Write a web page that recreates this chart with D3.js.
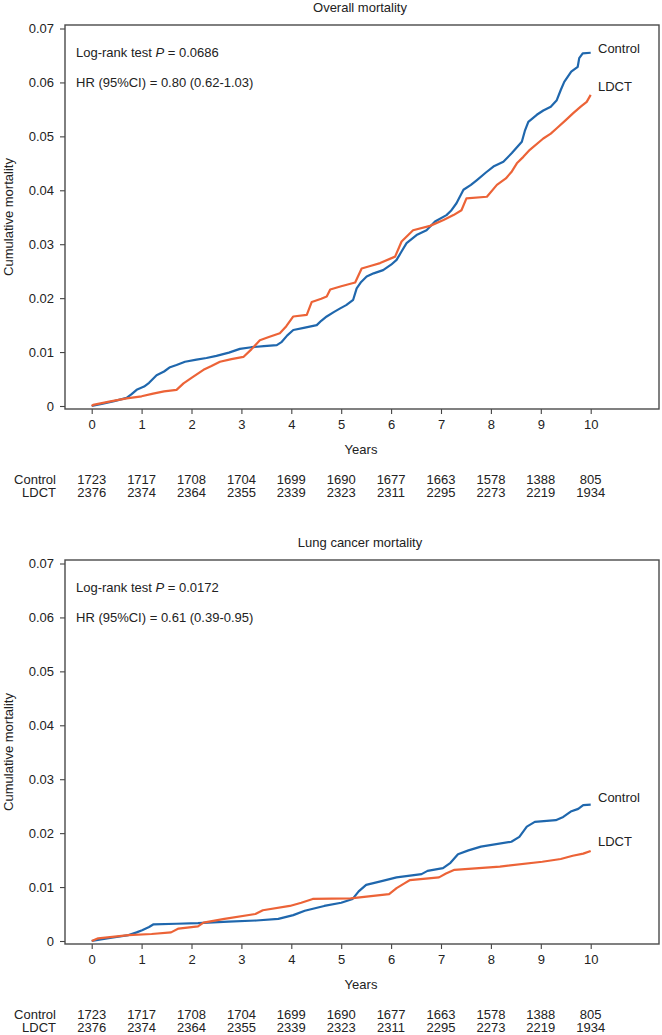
<!DOCTYPE html>
<html>
<head>
<meta charset="utf-8">
<script src="https://cdn.jsdelivr.net/npm/d3@7"></script>
<style>
  html, body { margin: 0; padding: 0; background: #fff; }
  svg { display: block; }
  text { font-family: "Liberation Sans", Arial, sans-serif; fill: #222; }
</style>
</head>
<body>
<svg id="chart" width="662" height="1035"></svg>
<script>
// ---------- data ----------
const panelTitles = ["Overall mortality", "Lung cancer mortality"];
const logRankText = ["0.0686", "0.0172"];
const hrText = ["HR (95%CI) = 0.80 (0.62-1.03)", "HR (95%CI) = 0.61 (0.39-0.95)"];
const groups = ["Control", "LDCT"];
const xTicks = [0, 1, 2, 3, 4, 5, 6, 7, 8, 9, 10];
const yTicks = [0, 0.01, 0.02, 0.03, 0.04, 0.05, 0.06, 0.07];
const atRiskControl = [1723, 1717, 1708, 1704, 1699, 1690, 1677, 1663, 1578, 1388, 805];
const atRiskLDCT = [2376, 2374, 2364, 2355, 2339, 2323, 2311, 2295, 2273, 2219, 1934];

const overallControl = [[0,0],[0.2,0.0004],[0.45,0.0009],[0.7,0.0015],[0.8,0.0022],[0.9,0.0030],[1.05,0.0036],[1.15,0.0043],[1.3,0.0057],[1.45,0.0064],[1.57,0.0072],[1.7,0.0076],[1.87,0.0082],[2.1,0.0086],[2.3,0.0089],[2.5,0.0093],[2.75,0.0099],[2.97,0.0106],[3.2,0.0109],[3.45,0.0111],[3.71,0.0113],[3.81,0.0119],[3.92,0.0131],[4.04,0.0141],[4.25,0.0145],[4.51,0.0150],[4.6,0.0158],[4.71,0.0166],[4.85,0.0174],[4.98,0.0181],[5.1,0.0187],[5.24,0.0197],[5.31,0.0218],[5.4,0.0230],[5.51,0.0240],[5.65,0.0246],[5.84,0.0252],[6.0,0.0262],[6.11,0.0271],[6.2,0.0285],[6.31,0.0302],[6.51,0.0317],[6.71,0.0326],[6.88,0.0342],[7.11,0.0354],[7.2,0.0362],[7.31,0.0376],[7.45,0.0401],[7.6,0.0410],[7.72,0.0419],[7.9,0.0433],[8.05,0.0444],[8.25,0.0453],[8.42,0.0469],[8.62,0.0490],[8.68,0.0510],[8.75,0.0527],[8.92,0.0540],[9.05,0.0548],[9.2,0.0555],[9.32,0.0567],[9.4,0.0586],[9.47,0.0601],[9.61,0.0620],[9.74,0.0629],[9.77,0.0645],[9.84,0.0654],[10,0.0655]];
const overallLDCT = [[0,0],[0.03,0.0002],[0.35,0.0008],[0.7,0.0014],[1.0,0.0018],[1.23,0.0023],[1.45,0.0027],[1.7,0.0030],[1.77,0.0036],[1.84,0.0042],[2.0,0.0052],[2.24,0.0067],[2.4,0.0074],[2.57,0.0082],[2.8,0.0087],[3.04,0.0091],[3.2,0.0105],[3.37,0.0122],[3.55,0.0128],[3.77,0.0135],[3.9,0.0148],[4.04,0.0166],[4.31,0.0169],[4.41,0.0193],[4.6,0.0199],[4.71,0.0203],[4.78,0.0216],[5.0,0.0222],[5.28,0.0229],[5.41,0.0255],[5.6,0.0260],[5.78,0.0265],[6.08,0.0277],[6.21,0.0305],[6.44,0.0326],[6.78,0.0334],[7.05,0.0345],[7.25,0.0354],[7.41,0.0363],[7.51,0.0385],[7.92,0.0388],[8.12,0.0410],[8.3,0.0422],[8.42,0.0435],[8.52,0.0450],[8.65,0.0462],[8.78,0.0475],[9.05,0.0496],[9.2,0.0505],[9.32,0.0515],[9.5,0.0530],[9.65,0.0543],[9.8,0.0555],[9.92,0.0564],[10,0.0577]];
const lungControl = [[0,0],[0.4,0.0006],[0.74,0.0011],[0.9,0.0016],[1.01,0.0020],[1.15,0.0026],[1.24,0.0031],[1.7,0.0032],[2.13,0.0033],[2.74,0.0036],[3.3,0.0038],[3.74,0.0041],[4.04,0.0048],[4.27,0.0056],[4.66,0.0065],[5.0,0.0071],[5.23,0.0078],[5.35,0.0092],[5.5,0.0104],[5.81,0.0111],[6.11,0.0118],[6.61,0.0124],[6.73,0.0130],[7.04,0.0135],[7.19,0.0145],[7.34,0.0161],[7.55,0.0168],[7.8,0.0175],[8.41,0.0184],[8.57,0.0193],[8.72,0.0212],[8.88,0.0221],[9.3,0.0224],[9.45,0.0230],[9.6,0.0240],[9.75,0.0245],[9.85,0.0252],[10,0.0253]];
const lungLDCT = [[0,0],[0.13,0.0005],[0.74,0.0011],[1.2,0.0013],[1.59,0.0016],[1.74,0.0023],[2.13,0.0027],[2.24,0.0034],[2.66,0.0041],[3.28,0.0050],[3.43,0.0057],[3.97,0.0065],[4.2,0.0071],[4.43,0.0078],[5.19,0.0079],[5.96,0.0087],[6.11,0.0098],[6.25,0.0106],[6.38,0.0113],[6.96,0.0118],[7.1,0.0125],[7.27,0.0132],[8.18,0.0138],[9.03,0.0147],[9.4,0.0152],[9.64,0.0158],[9.85,0.0162],[10,0.0167]];

const panelSeries = [[overallControl, overallLDCT], [lungControl, lungLDCT]];
// curve-end label positions (data units)
const endLabelY = [[0.0663, 0.0593], [0.0267, 0.0185]];

// ---------- drawing ----------
const colors = ["#1f67ad", "#ec6337"];
const svg = d3.select("#chart");
const FS = 13;

const frameL = 65, frameR = 659;

function drawPanel(i, off) {
  const g = svg.append("g").attr("transform", `translate(0,${off})`);
  const frameT = 25, frameB = 409;
  const x = d3.scaleLinear().domain([0, 10]).range([91.7, 590.7]);
  const y = d3.scaleLinear().domain([0, 0.07]).range([406, 28.5]);

  // title
  g.append("text").attr("x", 360).attr("y", 7).attr("dy", "0.35em")
    .attr("text-anchor", "middle").style("font-size", FS + "px").text(panelTitles[i]);

  // y axis
  const ya = d3.axisLeft(y).tickValues(yTicks).tickSize(5).tickPadding(6)
    .tickFormat(d => d === 0 ? "0" : d3.format(".2f")(d));
  const yg = g.append("g").attr("transform", `translate(${frameL},0)`).call(ya);
  yg.select(".domain").remove();
  yg.selectAll("line").attr("stroke", "#444").attr("stroke-width", 1.1);
  yg.selectAll("text").style("font-size", FS + "px").attr("fill", "#222");

  // x axis
  const xa = d3.axisBottom(x).tickValues(xTicks).tickSize(5).tickPadding(6).tickFormat(d3.format("d"));
  const xg = g.append("g").attr("transform", `translate(0,${frameB})`).call(xa);
  xg.select(".domain").remove();
  xg.selectAll("line").attr("stroke", "#444").attr("stroke-width", 1.1);
  xg.selectAll("text").style("font-size", FS + "px").attr("fill", "#222");

  // frame
  g.append("rect").attr("x", frameL).attr("y", frameT)
    .attr("width", frameR - frameL).attr("height", frameB - frameT)
    .attr("fill", "none").attr("stroke", "#4a4a4a").attr("stroke-width", 1.4);

  // y label
  g.append("text").attr("transform", `translate(8,${(frameT + frameB) / 2}) rotate(-90)`)
    .attr("dy", "0.35em").attr("text-anchor", "middle").style("font-size", FS + "px")
    .text("Cumulative mortality");

  // x label
  g.append("text").attr("x", 361).attr("y", 449).attr("dy", "0.35em")
    .attr("text-anchor", "middle").style("font-size", FS + "px").text("Years");

  // annotations
  const t1 = g.append("text").attr("x", 76).attr("y", 52).attr("dy", "0.35em").style("font-size", FS + "px");
  t1.append("tspan").text("Log-rank test ");
  t1.append("tspan").style("font-style", "italic").text("P");
  t1.append("tspan").text(" = " + logRankText[i]);
  g.append("text").attr("x", 76).attr("y", 82).attr("dy", "0.35em").style("font-size", FS + "px").text(hrText[i]);

  // curves
  const line = d3.line().x(d => x(d[0])).y(d => y(d[1])).curve(d3.curveLinear);
  panelSeries[i].forEach((s, k) => {
    g.append("path").datum(s).attr("d", line).attr("fill", "none")
      .attr("stroke", colors[k]).attr("stroke-width", 2.2).attr("stroke-linejoin", "round");
  });

  // end labels
  groups.forEach((gname, k) => {
    g.append("text").attr("x", 598).attr("y", y(endLabelY[i][k])).attr("dy", "0.35em")
      .style("font-size", FS + "px").text(gname);
  });

  // at-risk table
  const rows = [atRiskControl, atRiskLDCT];
  const rowY = [479, 492];
  rows.forEach((vals, k) => {
    g.append("text").attr("x", 56).attr("y", rowY[k]).attr("dy", "0.35em")
      .attr("text-anchor", "end").style("font-size", FS + "px").text(groups[k]);
    g.selectAll(null).data(vals).enter().append("text")
      .attr("x", (d, j) => x(xTicks[j])).attr("y", rowY[k]).attr("dy", "0.35em")
      .attr("text-anchor", "middle").style("font-size", FS + "px").text(d => d);
  });
}

drawPanel(0, 0);
drawPanel(1, 535);
</script>
</body>
</html>
